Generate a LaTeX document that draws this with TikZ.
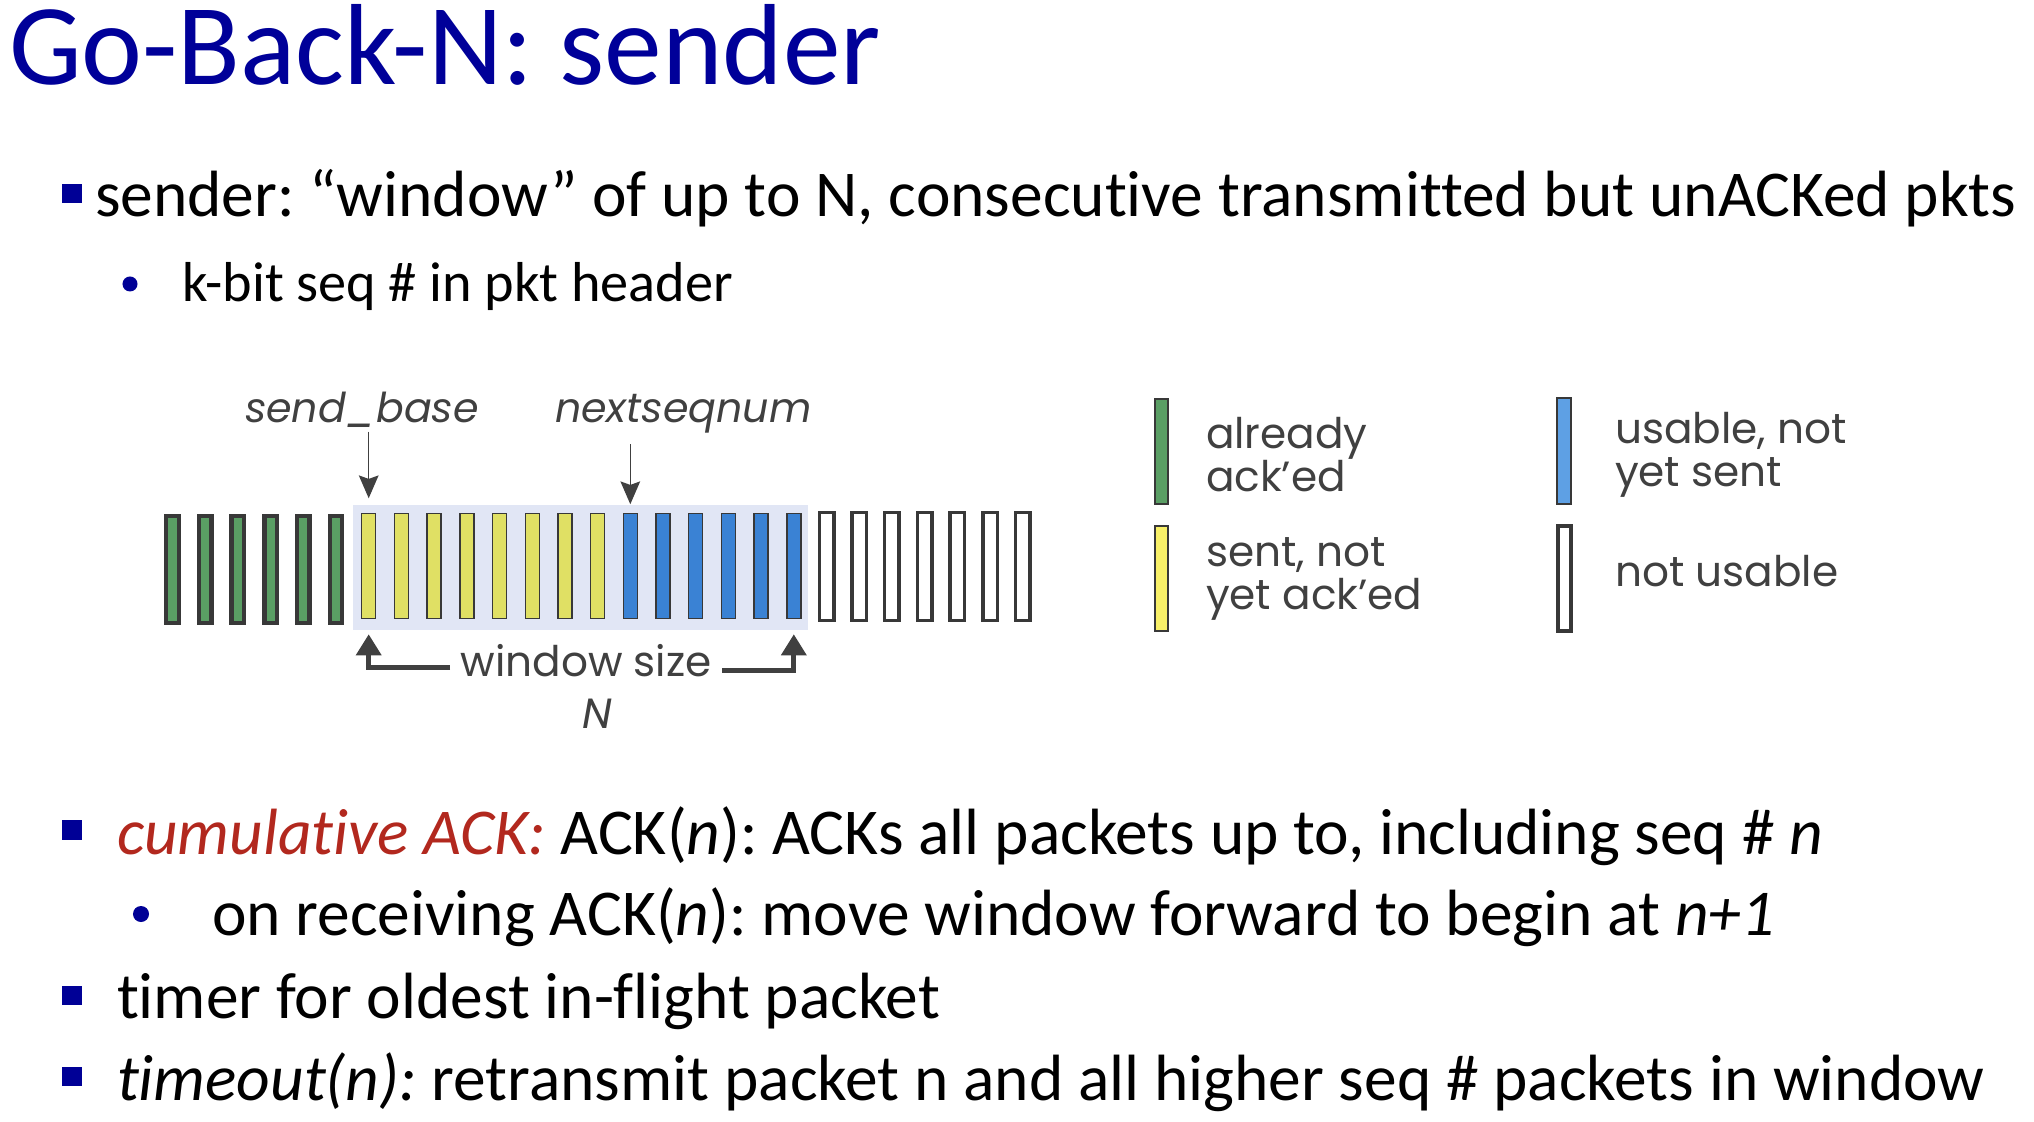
\documentclass[tikz,border=0pt]{standalone}
\usepackage{fontspec}
\setmainfont{Carlito}[Ligatures={NoCommon}]
\newfontfamily\gfont{Poppins}
\usetikzlibrary{arrows.meta}
\definecolor{titleblue}{RGB}{0,0,153}
\definecolor{bulletblue}{RGB}{0,0,150}
\definecolor{accred}{RGB}{178,40,30}
\definecolor{ackgreen}{RGB}{90,158,100}
\definecolor{sentyellow}{RGB}{224,224,100}
\definecolor{usableblue}{RGB}{58,130,212}
\definecolor{winbg}{RGB}{225,230,245}
\definecolor{outline}{RGB}{56,56,56}
\definecolor{labelgray}{RGB}{64,64,64}
\definecolor{legyellow}{RGB}{248,240,104}
\definecolor{legblue}{RGB}{94,160,228}
\frenchspacing

\begin{document}
\begin{tikzpicture}[x=0.01cm,y=-0.01cm,
  txt/.style={anchor=base west,inner sep=0pt,outer sep=0pt},
  body/.style={txt,font=\fontsize{18.6pt}{22pt}\selectfont},
  subbody/.style={txt,font=\fontsize{16pt}{19pt}\selectfont},
  sqbullet/.style={fill=bulletblue,draw=none,minimum width=0.19cm,minimum height=0.19cm,inner sep=0pt},
  dotbullet/.style={circle,fill=bulletblue,minimum size=0.15cm,inner sep=0pt},
  pkt/.style={rectangle,inner sep=0pt,draw=outline},
  gpkt/.style={pkt,fill=ackgreen,line width=1.25pt,minimum width=0.125cm,minimum height=1.065cm},
  ypkt/.style={pkt,fill=sentyellow,line width=0.4pt,minimum width=0.14cm,minimum height=1.05cm},
  bpkt/.style={pkt,fill=usableblue,line width=0.4pt,minimum width=0.14cm,minimum height=1.05cm},
  wpkt/.style={pkt,fill=white,line width=1.0pt,minimum width=0.145cm,minimum height=1.075cm},
  glabel/.style={txt,text=labelgray,font=\gfont\fontsize{12pt}{12.5pt}\selectfont,align=left},
  dlabel/.style={txt,text=labelgray,font=\gfont\fontsize{11.7pt}{13pt}\selectfont},
  ptr/.style={draw=labelgray,line width=0.4pt,-{Stealth[length=6.5pt,width=5.6pt,inset=1pt]}},
  warrow/.style={draw=labelgray,line width=1.4pt,-{Triangle[length=6pt,width=7pt]}},
]
\useasboundingbox (0,0) rectangle (2034,1122);

% title
\node[txt,text=titleblue,font=\fontsize{32.8pt}{38pt}\selectfont] (title) at (9,85) {Go-Back-N: sender};

% upper bullets
\node[sqbullet] (b1) at (72,194) {};
\node[body] (l1) at (95,217) {sender: “window” of up to N, consecutive transmitted but unACKed pkts};
\node[dotbullet] (b2) at (130,284) {};
\node[subbody] (l2) at (182,302) {k-bit seq \# in pkt header};

% sequence-number space
\node[fill=winbg,inner sep=0pt,minimum width=4.55cm,minimum height=1.25cm] (win) at (580.5,567.5) {};
\foreach \i in {0,...,5}
  \node[gpkt] (p\i) at ({172.5+32.7*\i},569.5) {};
\foreach \i in {6,...,13}
  \node[ypkt] (p\i) at ({172.5+32.7*\i},566) {};
\foreach \i in {14,...,19}
  \node[bpkt] (p\i) at ({172.5+32.7*\i},566) {};
\foreach \i in {20,...,26}
  \node[wpkt] (p\i) at ({172.5+32.7*\i},566.5) {};

\node[dlabel] (sb) at (245,423) {\itshape send\_base};
\node[dlabel] (ns) at (555,423) {\itshape nextseqnum};
\draw[ptr] ([yshift=-1pt]p6 |- sb.south) -- ([yshift=1.7pt]p6 |- win.north);
\draw[ptr] ([yshift=-3pt]p14 |- ns.south) -- (p14 |- win.north);

\node[dlabel,font=\gfont\fontsize{12pt}{13pt}\selectfont,inner xsep=3pt] (ws) at (450,676) {window size};
\node[dlabel,font=\gfont\fontsize{12pt}{13pt}\selectfont] (nn) at (582,728) {\itshape N};
\draw[warrow] ([yshift=2.3pt]ws.base west) -| ([yshift=-1pt]p6 |- win.south);
\draw[warrow] ([yshift=1.5pt]ws.base east) -| ([yshift=-1pt]p19 |- win.south);

% legend
\node[pkt,fill=ackgreen,line width=0.4pt,minimum width=0.13cm,minimum height=1.05cm] (kg) at (1161.5,451.5) {};
\node[pkt,fill=legyellow,line width=0.4pt,minimum width=0.13cm,minimum height=1.05cm] (ky) at (1161.5,578.5) {};
\node[pkt,fill=legblue,line width=0.4pt,minimum width=0.14cm,minimum height=1.06cm] (kb) at (1564,451) {};
\node[pkt,fill=white,line width=1.1pt,minimum width=0.13cm,minimum height=1.05cm] (kw) at (1564.5,578.5) {};
\node[glabel] (tg) at (1206,492) {already\\ack’ed};
\node[glabel] (ty) at (1206,610) {sent, not\\yet ack’ed};
\node[glabel] (tb) at (1615,487) {usable, not\\yet sent};
\node[glabel] (tw) at (1615,587) {not usable};

% lower bullets
\node[sqbullet] (b3) at (72,830) {};
\node[body] (l3) at (117,854) {\textcolor{accred}{\itshape cumulative ACK:} ACK(\textit{n}): ACKs all packets up to, including seq \# \textit{n}};
\node[dotbullet,minimum size=0.16cm] (b4) at (141,914) {};
\node[body] (l4) at (212,935) {on receiving ACK(\textit{n}): move window forward to begin at \textit{n+1}};
\node[sqbullet] (b5) at (72,995) {};
\node[body] (l5) at (117,1018) {timer for oldest in-flight packet};
\node[sqbullet] (b6) at (72,1076) {};
\node[body] (l6) at (117,1100) {\textit{timeout(n):} retransmit packet n and all higher seq \# packets in window};
\end{tikzpicture}
\end{document}
